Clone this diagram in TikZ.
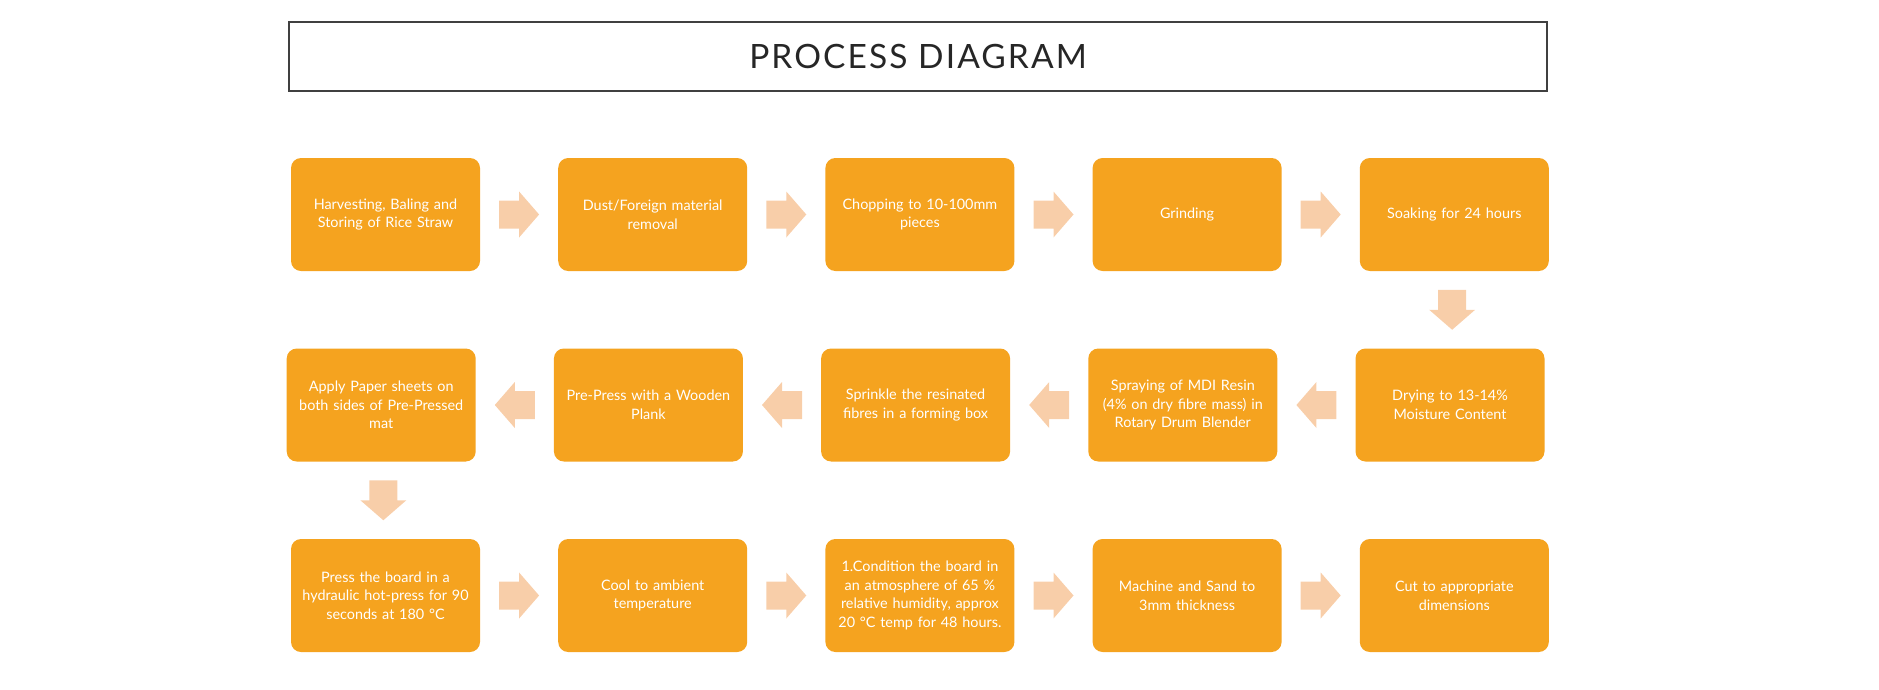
\documentclass[tikz,border=0pt]{standalone}
\usepackage{fontspec}
\setmainfont{Lato}
\newfontfamily\titlefont[LetterSpace=6.2]{Lato}
\usetikzlibrary{calc}
\definecolor{boxor}{HTML}{F5A31F}
\definecolor{arrpeach}{HTML}{F8CEA9}
\definecolor{titlegray}{HTML}{404040}
\definecolor{titletext}{HTML}{262626}
\newcommand{\blockarrow}[2]{%
  \fill[arrpeach, shift={#1}, rotate=#2] (-20,14) -- (0,14) -- (0,23) -- (20,0) -- (0,-23) -- (0,-14) -- (-20,-14) -- cycle;}
\begin{document}
\begin{tikzpicture}[x=1pt,y=1pt,
  stepbox/.style={rectangle, rounded corners=10pt, fill=boxor, minimum width=189pt, minimum height=113pt, text width=184pt, align=center, text=white, inner sep=0pt, outer sep=0pt, font=\fontsize{14.4}{18.6}\selectfont},
  titlebox/.style={rectangle, draw=titlegray, line width=2.9pt, minimum width=1258pt, minimum height=69pt, inner sep=0pt, text=titletext, font=\titlefont\fontsize{33.5}{36}\selectfont}]
\useasboundingbox (0,0) rectangle (1879,-689);
\node[titlebox] (title) at (918,-56.5) {PROCESS DIAGRAM};
% row 1
\node[stepbox] (a1) at (385.5,-214.5) {Harvesting, Baling and\\Storing of Rice Straw};
\node[stepbox] (a2) at (652.7,-214.5) {Dust/Foreign material\\removal};
\node[stepbox] (a3) at (919.9,-214.5) {Chopping to 10-100mm\\pieces};
\node[stepbox] (a4) at (1187.1,-214.5) {Grinding};
\node[stepbox] (a5) at (1454.3,-214.5) {Soaking for 24 hours};
% row 2
\node[stepbox] (b5) at (1450,-405) {Drying to 13-14\%\\Moisture Content};
\node[stepbox] (b4) at (1182.8,-405) {Spraying of MDI Resin\\(4\% on dry fibre mass) in\\Rotary Drum Blender};
\node[stepbox] (b3) at (915.6,-405) {Sprinkle the resinated\\fibres in a forming box};
\node[stepbox] (b2) at (648.4,-405) {Pre-Press with a Wooden\\Plank};
\node[stepbox] (b1) at (381.2,-405) {Apply Paper sheets on\\both sides of Pre-Pressed\\mat};
% row 3
\node[stepbox] (c1) at (385.5,-595.5) {Press the board in a\\hydraulic hot-press for 90\\seconds at 180 °C};
\node[stepbox] (c2) at (652.7,-595.5) {Cool to ambient\\temperature};
\node[stepbox] (c3) at (919.9,-595.5) {1.Condition the board in\\an atmosphere of 65 \%\\relative humidity, approx\\20 °C temp for 48 hours.};
\node[stepbox] (c4) at (1187.1,-595.5) {Machine and Sand to\\3mm thickness};
\node[stepbox] (c5) at (1454.3,-595.5) {Cut to appropriate\\dimensions};
% arrows
\blockarrow{($(a1.east)!0.5!(a2.west)$)}{0}
\blockarrow{($(a2.east)!0.5!(a3.west)$)}{0}
\blockarrow{($(a3.east)!0.5!(a4.west)$)}{0}
\blockarrow{($(a4.east)!0.5!(a5.west)$)}{0}
\blockarrow{($(a5.south)!0.5!(b5.north)$)}{-90}
\blockarrow{($(b5.west)!0.5!(b4.east)$)}{180}
\blockarrow{($(b4.west)!0.5!(b3.east)$)}{180}
\blockarrow{($(b3.west)!0.5!(b2.east)$)}{180}
\blockarrow{($(b2.west)!0.5!(b1.east)$)}{180}
\blockarrow{($(b1.south)!0.5!(c1.north)$)}{-90}
\blockarrow{($(c1.east)!0.5!(c2.west)$)}{0}
\blockarrow{($(c2.east)!0.5!(c3.west)$)}{0}
\blockarrow{($(c3.east)!0.5!(c4.west)$)}{0}
\blockarrow{($(c4.east)!0.5!(c5.west)$)}{0}
\end{tikzpicture}
\end{document}
